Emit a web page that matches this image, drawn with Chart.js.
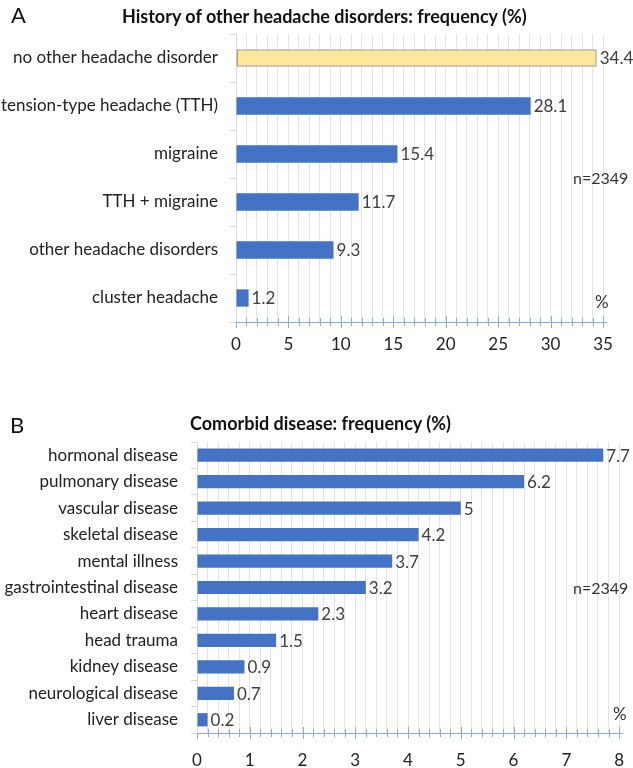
<!DOCTYPE html>
<html><head><meta charset="utf-8">
<script src="https://cdn.jsdelivr.net/npm/chart.js@4"></script>
<style>
body{margin:0;background:#fff;width:633px;height:768px;position:relative;overflow:hidden;font-family:Lato,sans-serif;}
.t{position:absolute;white-space:nowrap;color:#111;line-height:1;transform:translateY(-50%);z-index:2;}
.c{position:absolute;left:0;z-index:1;}
</style></head><body>
<canvas class="c" id="cA" width="633" height="362" style="top:0px"></canvas>
<canvas class="c" id="cB" width="633" height="368" style="top:400px"></canvas>

<div class="t" style="left:11px;top:15px;font-size:22px;">A</div>
<div class="t" style="left:122px;top:16px;font-size:18px;font-weight:bold;">History of other headache disorders: frequency (%)</div>
<div class="t" style="left:573px;top:178px;font-size:16px;color:#333;">n=2349</div>
<div class="t" style="left:595px;top:301px;font-size:17px;color:#333;">%</div>

<div class="t" style="left:10px;top:425px;font-size:22px;">B</div>
<div class="t" style="left:190px;top:423px;font-size:18px;font-weight:bold;">Comorbid disease: frequency (%)</div>
<div class="t" style="left:573px;top:588px;font-size:16px;color:#333;">n=2349</div>
<div class="t" style="left:613px;top:713px;font-size:17px;color:#333;">%</div>

<script>
// ---- data ----
const categoriesA = ['no other headache disorder','tension-type headache (TTH)','migraine','TTH + migraine','other headache disorders','cluster headache'];
const valuesA = [34.4, 28.1, 15.4, 11.7, 9.3, 1.2];
const tickLabelsA = [0, 5, 10, 15, 20, 25, 30, 35];

const categoriesB = ['hormonal disease','pulmonary disease','vascular disease','skeletal disease','mental illness','gastrointestinal disease','heart disease','head trauma','kidney disease','neurological disease','liver disease'];
const valuesB = [7.7, 6.2, 5, 4.2, 3.7, 3.2, 2.3, 1.5, 0.9, 0.7, 0.2];
const tickLabelsB = [0, 1, 2, 3, 4, 5, 6, 7, 8];

// ---- styles ----
const BLUE = '#4472C4';
const YELLOW = '#FFE699';
const AXIS_BLUE = '#8FAADC';
const FONT = 'Lato';

const isMajor = (v, labels) => labels.some(l => Math.abs(l - v) < 1e-6);

const tickPlugin = {
  id: 'axisTicks',
  afterDraw(chart) {
    const s = chart.scales.x, ctx = chart.ctx, y = s.top;
    const labels = chart.options.plugins.axisTicks.labels;
    ctx.save();
    ctx.strokeStyle = AXIS_BLUE; ctx.lineWidth = 1;
    ctx.beginPath();
    ctx.moveTo(s.right, y + 0.5); ctx.lineTo(s.right + 4, y + 0.5);
    s.ticks.forEach((t, i) => {
      const x = Math.round(s.getPixelForValue(t.value)) + 0.5;
      const major = isMajor(t.value, labels);
      if (i === 0) { ctx.moveTo(x, y); ctx.lineTo(x, y + 6); return; }
      const up = major ? 6 : 4, dn = major ? 6 : 4;
      ctx.moveTo(x, y - up); ctx.lineTo(x, y + dn);
    });
    ctx.stroke();
    ctx.restore();
  }
};

const valueLabels = {
  id: 'valueLabels',
  afterDatasetsDraw(chart) {
    const ctx = chart.ctx;
    const ds = chart.data.datasets[0];
    const meta = chart.getDatasetMeta(0);
    ctx.save();
    ctx.font = '17px ' + FONT;
    ctx.fillStyle = '#404040';
    ctx.textAlign = 'left';
    ctx.textBaseline = 'middle';
    meta.data.forEach((bar, i) => {
      ctx.fillText(String(ds.data[i]), bar.x + 3, bar.y + 1);
    });
    ctx.restore();
  }
};

function makeChart(id, cats, vals, cfg) {
  return new Chart(document.getElementById(id), {
    type: 'bar',
    data: {
      labels: cats,
      datasets: [{
        data: vals,
        backgroundColor: ctx => (cfg.highlightFirst && ctx.dataIndex === 0) ? YELLOW : BLUE,
        borderColor: ctx => (cfg.highlightFirst && ctx.dataIndex === 0) ? '#A5A28F' : BLUE,
        borderWidth: ctx => (cfg.highlightFirst && ctx.dataIndex === 0) ? 1.5 : 0,
        borderSkipped: false,
        barPercentage: cfg.barPct,
        categoryPercentage: 1
      }]
    },
    options: {
      indexAxis: 'y',
      responsive: false,
      animation: false,
      events: [],
      layout: { padding: cfg.padding },
      plugins: { legend: { display: false }, tooltip: { enabled: false }, axisTicks: { labels: cfg.tickLabels } },
      scales: {
        x: {
          type: 'linear', position: 'bottom',
          min: cfg.tickLabels[0], max: cfg.tickLabels[cfg.tickLabels.length - 1],
          afterFit: s => { s.height = cfg.xAxisH; },
          grid: { color: '#E4E4E4', lineWidth: 1, drawTicks: true, tickLength: 8, tickColor: 'rgba(0,0,0,0)' },
          border: { color: AXIS_BLUE, width: 1 },
          ticks: {
            stepSize: cfg.minorStep, autoSkip: false, maxRotation: 0, padding: cfg.xPad,
            font: { family: FONT, size: 17 }, color: '#222',
            callback: v => isMajor(v, cfg.tickLabels) ? String(Math.round(v)) : ''
          }
        },
        y: {
          type: 'category',
          afterFit: s => { s.width = cfg.yAxisW; },
          grid: { offset: true, drawOnChartArea: false, tickLength: 6, color: '#D9D9D9' },
          border: { color: '#D9D9D9', width: 1 },
          ticks: { padding: cfg.yPad, autoSkip: false, font: { family: FONT, size: 17 }, color: '#222' }
        }
      }
    },
    plugins: [tickPlugin, valueLabels]
  });
}

makeChart('cA', categoriesA, valuesA, {
  highlightFirst: true, barPct: 0.36, tickLabels: tickLabelsA, minorStep: 1,
  padding: { left: 0, right: 30, top: 34, bottom: 0 }, xAxisH: 40, yAxisW: 236, yPad: 12, xPad: 4
});
makeChart('cB', categoriesB, valuesB, {
  highlightFirst: false, barPct: 0.5, tickLabels: tickLabelsB, minorStep: 0.2,
  padding: { left: 0, right: 13, top: 42, bottom: 0 }, xAxisH: 35, yAxisW: 197, yPad: 13, xPad: 9
});
</script>
</body></html>
